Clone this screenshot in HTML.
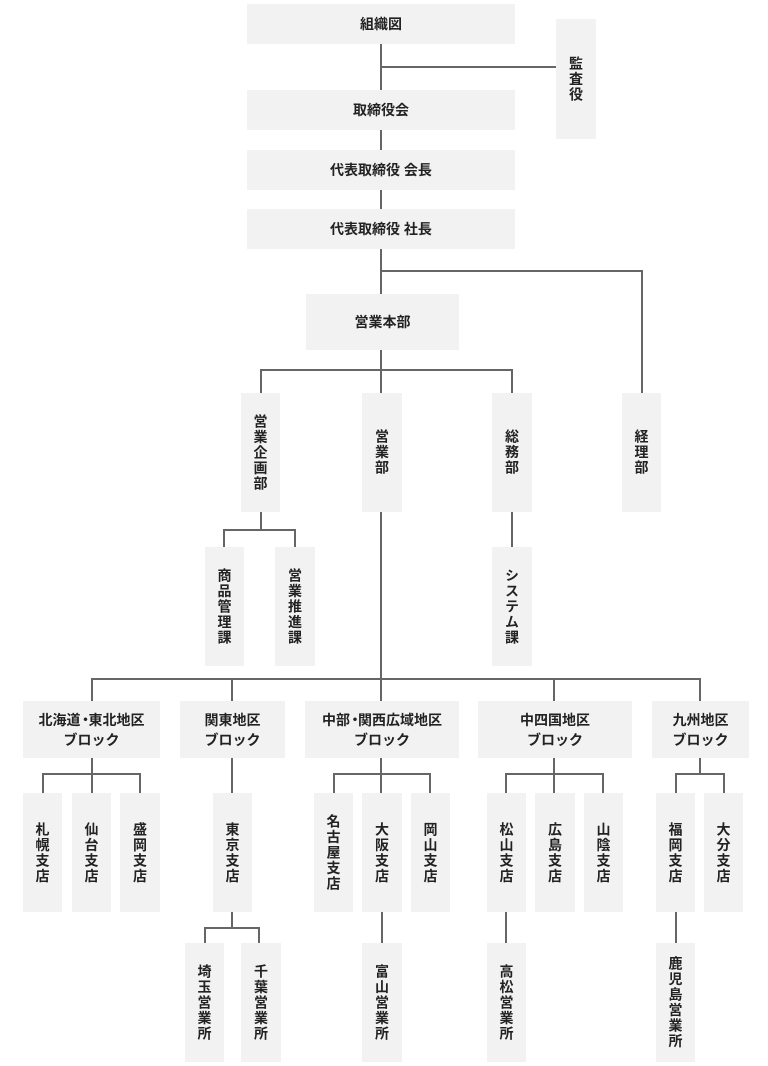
<!DOCTYPE html>
<html><head><meta charset="utf-8"><style>
body{margin:0;width:768px;height:1066px;background:#fff;position:relative;overflow:hidden;font-family:"Liberation Sans","Noto Sans CJK JP",sans-serif;}
.b{position:absolute;background:#f2f2f2;display:flex;align-items:center;justify-content:center;color:#222;font-weight:bold;font-size:14px;text-align:center;line-height:20px;}
.v span{writing-mode:vertical-rl;letter-spacing:1.5px;font-size:14px;}
.d{letter-spacing:-4px;margin-left:-2px;}
svg{position:absolute;left:0;top:0;}
</style></head><body>
<svg width="768" height="1066"><g stroke="#666" stroke-width="2" fill="none">
<path d="M381 44V90M381 67H556M381 130V150M381 190V209M381 249V294M381 271H642V393"/>
<path d="M381 350V701M261 393V370H512V393"/>
<path d="M261 512V530M224 547V530H295V547M512 512V547"/>
<path d="M92 701V679H700V701M232 679V701M554 679V701"/>
<path d="M92 758V793M43 793V774H140V793"/>
<path d="M232 758V793M232 912V928M205 943V928H259V943"/>
<path d="M381 758V793M334 793V774H430V793M382 912V943"/>
<path d="M554 758V793M506 793V774H603V793M506 912V943"/>
<path d="M700 758V774M676 793V774H724V793M676 912V943"/>
</g></svg>
<div class="b" style="left:247px;top:4px;width:268px;height:40px">組織図</div>
<div class="b v" style="left:556px;top:19px;width:40px;height:120px"><span>監査役</span></div>
<div class="b" style="left:247px;top:90px;width:268px;height:40px">取締役会</div>
<div class="b" style="left:247px;top:150px;width:268px;height:40px">代表取締役 会長</div>
<div class="b" style="left:247px;top:209px;width:268px;height:40px">代表取締役 社長</div>
<div class="b" style="left:306px;top:294px;width:153px;height:56px">営業本部</div>
<div class="b v" style="left:241px;top:393px;width:39px;height:119px"><span>営業企画部</span></div>
<div class="b v" style="left:362px;top:393px;width:40px;height:119px"><span>営業部</span></div>
<div class="b v" style="left:492px;top:393px;width:40px;height:119px"><span>総務部</span></div>
<div class="b v" style="left:622px;top:393px;width:39px;height:119px"><span>経理部</span></div>
<div class="b v" style="left:205px;top:547px;width:39px;height:119px"><span>商品管理課</span></div>
<div class="b v" style="left:275px;top:547px;width:40px;height:119px"><span>営業推進課</span></div>
<div class="b v" style="left:492px;top:547px;width:40px;height:119px"><span>システム課</span></div>
<div class="b" style="left:23px;top:701px;width:137px;height:57px"><div>北海道<span class="d">・</span>東北地区<br>ブロック</div></div>
<div class="b" style="left:180px;top:701px;width:105px;height:57px">関東地区<br>ブロック</div>
<div class="b" style="left:305px;top:701px;width:154px;height:57px"><div>中部<span class="d">・</span>関西広域地区<br>ブロック</div></div>
<div class="b" style="left:478px;top:701px;width:154px;height:57px">中四国地区<br>ブロック</div>
<div class="b" style="left:652px;top:701px;width:97px;height:57px">九州地区<br>ブロック</div>
<div class="b v" style="left:23px;top:793px;width:39px;height:119px"><span>札幌支店</span></div>
<div class="b v" style="left:72px;top:793px;width:39px;height:119px"><span>仙台支店</span></div>
<div class="b v" style="left:120px;top:793px;width:40px;height:119px"><span>盛岡支店</span></div>
<div class="b v" style="left:213px;top:793px;width:39px;height:119px"><span>東京支店</span></div>
<div class="b v" style="left:314px;top:793px;width:39px;height:119px"><span>名古屋支店</span></div>
<div class="b v" style="left:362px;top:793px;width:40px;height:119px"><span>大阪支店</span></div>
<div class="b v" style="left:411px;top:793px;width:39px;height:119px"><span>岡山支店</span></div>
<div class="b v" style="left:487px;top:793px;width:39px;height:119px"><span>松山支店</span></div>
<div class="b v" style="left:535px;top:793px;width:40px;height:119px"><span>広島支店</span></div>
<div class="b v" style="left:584px;top:793px;width:39px;height:119px"><span>山陰支店</span></div>
<div class="b v" style="left:656px;top:793px;width:39px;height:119px"><span>福岡支店</span></div>
<div class="b v" style="left:704px;top:793px;width:39px;height:119px"><span>大分支店</span></div>
<div class="b v" style="left:185px;top:943px;width:39px;height:119px"><span>埼玉営業所</span></div>
<div class="b v" style="left:241px;top:943px;width:40px;height:119px"><span>千葉営業所</span></div>
<div class="b v" style="left:362px;top:943px;width:40px;height:119px"><span>富山営業所</span></div>
<div class="b v" style="left:487px;top:943px;width:39px;height:119px"><span>高松営業所</span></div>
<div class="b v" style="left:656px;top:943px;width:39px;height:119px"><span>鹿児島営業所</span></div>
</body></html>
